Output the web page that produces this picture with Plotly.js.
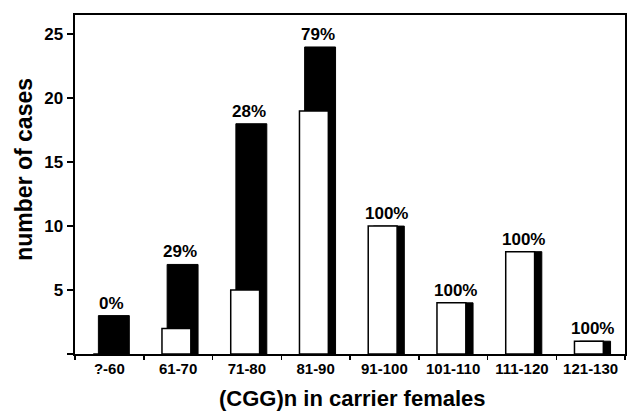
<!DOCTYPE html>
<html>
<head>
<meta charset="utf-8">
<script src="https://cdn.plot.ly/plotly-3.0.1.min.js"></script>
<style>html,body{margin:0;padding:0;background:#fff;}#chart{width:627px;height:412px;}</style>
</head>
<body>
<div id="chart"></div>
<script>
var categories = ["?-60", "61-70", "71-80", "81-90", "91-100", "101-110", "111-120", "121-130"];
var totalCases = [3, 7, 18, 24, 10, 4, 8, 1];
var whiteCases = [0, 2, 5, 19, 10, 4, 8, 1];
var percentLabels = ["0%", "29%", "28%", "79%", "100%", "100%", "100%", "100%"];

var FONT = "Liberation Sans, Arial, Helvetica, sans-serif";

var blackTrace = {
  type: "bar", x: categories, y: totalCases,
  width: 0.45, offset: -0.16,
  marker: {color: "#000", line: {color: "#000", width: 1}},
  hoverinfo: "skip"
};
var whiteTrace = {
  type: "bar", x: categories, y: whiteCases,
  width: 0.42, offset: -0.235,
  marker: {color: "#fff", line: {color: "#000", width: 1.5}},
  hoverinfo: "skip"
};

var annotations = categories.map(function (c, i) {
  return {
    x: c, y: totalCases[i], xref: "x", yref: "y",
    text: percentLabels[i], showarrow: false,
    xanchor: "center", yanchor: "bottom", xshift: 2, yshift: 1,
    font: {family: FONT, size: 17, color: "#000", weight: 700}
  };
});
annotations.push({
  xref: "paper", yref: "paper", x: -0.093, y: 0.546,
  xanchor: "center", yanchor: "middle", textangle: -90,
  text: "number of cases", showarrow: false,
  font: {family: FONT, size: 23, color: "#000", weight: 700}
});
annotations.push({
  xref: "paper", yref: "paper", x: 0.504, y: -0.132,
  xanchor: "center", yanchor: "middle",
  text: "(CGG)n in carrier females", showarrow: false,
  font: {family: FONT, size: 22, color: "#000", weight: 700}
});

var layout = {
  width: 627, height: 412,
  margin: {l: 75, r: 2, t: 15, b: 58},
  paper_bgcolor: "#fff", plot_bgcolor: "#fff",
  barmode: "overlay",
  showlegend: false,
  xaxis: {
    type: "category", showgrid: false, zeroline: false,
    showline: true, linecolor: "#000", linewidth: 2, mirror: true,
    ticks: "outside", tickson: "boundaries", ticklen: 4, tickwidth: 1.5, tickcolor: "#000",
    tickfont: {family: FONT, size: 15, color: "#000", weight: 700},
    fixedrange: true
  },
  yaxis: {
    range: [0, 26.5], showgrid: false, zeroline: false,
    showline: true, linecolor: "#000", linewidth: 2.5, mirror: true,
    tickvals: [0, 5, 10, 15, 20, 25], ticktext: ["", "5", "10", "15", "20", "25"],
    ticks: "outside", ticklen: 6, tickwidth: 1.5, tickcolor: "#000",
    tickfont: {family: FONT, size: 17, color: "#000", weight: 700},
    fixedrange: true
  },
  annotations: annotations
};

Plotly.newPlot("chart", [blackTrace, whiteTrace], layout, {displayModeBar: false, staticPlot: true});
</script>
</body>
</html>
